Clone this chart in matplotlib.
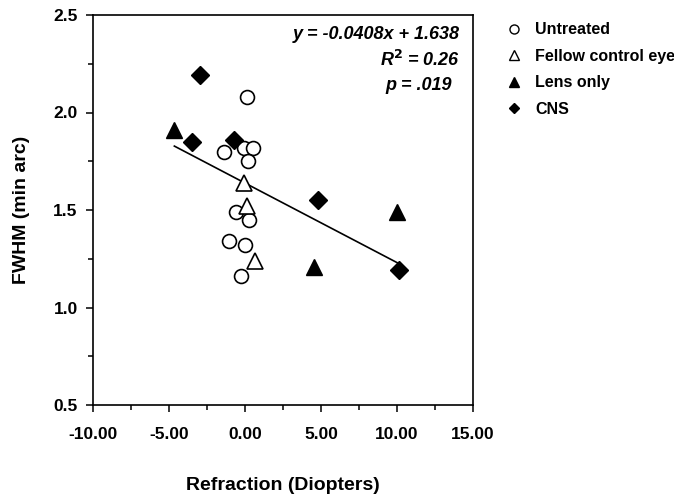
import numpy as np
import matplotlib
matplotlib.use("Agg")
import matplotlib.pyplot as plt
from matplotlib.lines import Line2D
from matplotlib.ticker import MultipleLocator, FormatStrFormatter

plt.rcParams['font.family'] = ['Liberation Sans', 'DejaVu Sans']
plt.rcParams['font.weight'] = 'bold'

# ── dados ───────────────────────────────────────────────────────────────────
untreated_x = [0.15, -1.4, -0.1, 0.55, 0.2, -0.6, 0.25, -1.05, 0.0, -0.3]
untreated_y = [2.08, 1.80, 1.82, 1.82, 1.75, 1.49, 1.45, 1.34, 1.32, 1.16]

fellow_x = [-0.05, 0.15, 0.65]
fellow_y = [1.64, 1.52, 1.24]

lens_x = [-4.65, 4.55, 10.0]
lens_y = [1.91, 1.21, 1.49]

cns_x = [-2.95, -3.5, -0.75, 4.8, 10.15]
cns_y = [2.19, 1.85, 1.86, 1.55, 1.19]

slope = -0.0408
intercept = 1.638

group_labels = ['Untreated', 'Fellow control eye', 'Lens only', 'CNS']

# ── gráfico ─────────────────────────────────────────────────────────────────
fig = plt.figure(figsize=(6.74, 5.0), dpi=100)
ax = fig.add_axes([0.138, 0.19, 0.564, 0.78])

ax.plot(untreated_x, untreated_y, 'o', ms=10, mfc='white', mec='black', mew=1.2, zorder=3)
ax.plot(fellow_x, fellow_y, '^', ms=11, mfc='white', mec='black', mew=1.2, zorder=3)
ax.plot(lens_x, lens_y, '^', ms=11, mfc='black', mec='black', mew=1, zorder=3)
ax.plot(cns_x, cns_y, 'D', ms=9.5, mfc='black', mec='black', mew=1, zorder=3)

todos_x = np.array(untreated_x + fellow_x + lens_x + cns_x)
xs = np.array([todos_x.min(), todos_x.max()])
ax.plot(xs, slope * xs + intercept, color='black', lw=1.2, zorder=2)

ax.set_xlim(-10, 15)
ax.set_ylim(0.5, 2.5)
ax.xaxis.set_major_locator(MultipleLocator(5))
ax.xaxis.set_minor_locator(MultipleLocator(2.5))
ax.yaxis.set_major_locator(MultipleLocator(0.5))
ax.yaxis.set_minor_locator(MultipleLocator(0.25))
ax.xaxis.set_major_formatter(FormatStrFormatter('%.2f'))
ax.yaxis.set_major_formatter(FormatStrFormatter('%.1f'))
ax.tick_params(which='both', direction='out', width=1.1, labelsize=12.5)
ax.tick_params(which='major', length=5)
ax.tick_params(which='minor', length=3.5)
ax.tick_params(axis='x', which='major', pad=11)
ax.tick_params(axis='y', which='major', pad=6)
for s in ax.spines.values():
    s.set_linewidth(1.2)

ax.set_xlabel('Refraction (Diopters)', fontsize=14, fontweight='bold')
ax.set_ylabel('FWHM (min arc)', fontsize=14, fontweight='bold')
ax.xaxis.set_label_coords(0.5, -0.185)
ax.yaxis.set_label_coords(-0.166, 0.5)

txt = dict(transform=ax.transAxes, ha='right', va='center',
           fontsize=13, fontweight='bold', fontstyle='italic')
ax.text(0.966, 0.951, 'y = -0.0408x + 1.638', **txt)
ax.text(0.966, 0.885, r'R$^{\mathbf{2}}$ = 0.26', **txt)
ax.text(0.945, 0.818, 'p = .019', **txt)

handles = [
    Line2D([], [], ls='', marker='o', ms=6.5, mfc='white', mec='black', mew=1),
    Line2D([], [], ls='', marker='^', ms=7, mfc='white', mec='black', mew=1),
    Line2D([], [], ls='', marker='^', ms=7, mfc='black', mec='black'),
    Line2D([], [], ls='', marker='D', ms=5.5, mfc='black', mec='black'),
]
fig.legend(handles, group_labels, loc='upper left', bbox_to_anchor=(0.751, 0.955),
           frameon=False, fontsize=11.5, handlelength=1.0, handletextpad=0.8,
           labelspacing=0.72, borderpad=0, borderaxespad=0)

fig.savefig('out.png', dpi=100)
